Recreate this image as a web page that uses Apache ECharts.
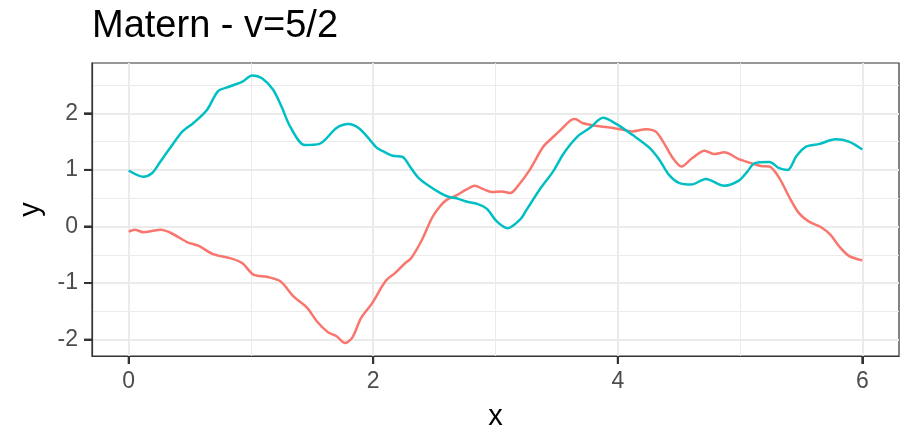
<!DOCTYPE html>
<html>
<head>
<meta charset="utf-8">
<script src="https://cdn.jsdelivr.net/npm/echarts@6/dist/echarts.min.js"></script>
<style>html,body{margin:0;padding:0;background:#fff;}#c{width:904px;height:428px;}</style>
</head>
<body>
<div id="c"></div>
<script>
const redX = [0,0.05,0.12,0.19,0.26,0.35,0.48,0.57,0.69,0.83,0.93,1.02,1.13,1.24,1.35,1.46,1.54,1.63,1.70,1.77,1.83,1.90,1.99,2.10,2.18,2.26,2.31,2.40,2.48,2.54,2.60,2.68,2.76,2.83,2.90,2.97,3.05,3.12,3.17,3.28,3.39,3.46,3.52,3.61,3.65,3.71,3.82,3.96,4.04,4.12,4.23,4.31,4.37,4.45,4.52,4.61,4.71,4.79,4.87,4.99,5.09,5.17,5.24,5.32,5.40,5.48,5.56,5.66,5.74,5.81,5.89,6.00];
const redY = [-0.09,-0.06,-0.10,-0.08,-0.06,-0.12,-0.28,-0.34,-0.49,-0.56,-0.65,-0.85,-0.89,-0.97,-1.24,-1.44,-1.68,-1.87,-1.94,-2.06,-1.96,-1.62,-1.36,-0.97,-0.82,-0.65,-0.56,-0.23,0.15,0.34,0.47,0.55,0.65,0.72,0.66,0.61,0.62,0.59,0.68,1.00,1.41,1.56,1.68,1.87,1.90,1.83,1.78,1.74,1.71,1.68,1.72,1.68,1.50,1.21,1.06,1.21,1.34,1.28,1.31,1.19,1.12,1.07,1.06,0.86,0.53,0.24,0.09,-0.01,-0.15,-0.35,-0.52,-0.60];
const cyanX = [0,0.12,0.19,0.26,0.34,0.44,0.53,0.64,0.73,0.82,0.93,1.01,1.09,1.18,1.25,1.32,1.44,1.56,1.70,1.80,1.88,1.95,2.03,2.08,2.16,2.24,2.30,2.37,2.46,2.55,2.62,2.68,2.76,2.85,2.93,3.01,3.10,3.20,3.25,3.36,3.47,3.56,3.67,3.77,3.88,3.99,4.12,4.26,4.34,4.42,4.50,4.60,4.72,4.87,4.99,5.06,5.12,5.24,5.32,5.39,5.46,5.54,5.65,5.78,5.89,6.00];
const cyanY = [0.99,0.88,0.94,1.15,1.39,1.68,1.83,2.06,2.39,2.47,2.56,2.67,2.62,2.42,2.12,1.77,1.44,1.46,1.74,1.81,1.74,1.59,1.39,1.33,1.25,1.23,1.06,0.86,0.71,0.59,0.52,0.50,0.44,0.40,0.31,0.09,-0.03,0.12,0.28,0.65,0.97,1.30,1.59,1.74,1.92,1.81,1.62,1.39,1.18,0.91,0.77,0.74,0.84,0.72,0.81,0.97,1.12,1.14,1.03,1.00,1.24,1.41,1.46,1.54,1.50,1.36];
const xTicks = [0, 2, 4, 6];
const yTicks = [-2, -1, 0, 1, 2];
const xMinor = [1, 3, 5];
const yMinor = [-1.5, -0.5, 0.5, 1.5, 2.5];
const xRange = [-0.3, 6.3];
const yRange = [-2.29, 2.89];

const zip = (xs, ys) => xs.map((x, i) => [x, ys[i]]);
const font = '"Liberation Sans", Arial, sans-serif';
const gridColor = '#EBEBEB';
const tickColor = '#333333';

const minorAxis = (range, values) => ({
  type: 'value', min: range[0], max: range[1], show: true,
  axisLine: {show: false}, axisTick: {show: false, customValues: values},
  axisLabel: {show: false, customValues: values},
  splitLine: {show: true, lineStyle: {color: gridColor, width: 1}}
});

const chart = echarts.init(document.getElementById('c'), null, {renderer: 'canvas'});
chart.setOption({
  animation: false,
  backgroundColor: '#ffffff',
  title: {
    text: 'Matern - v=5/2', left: 87, top: 3,
    textStyle: {fontFamily: font, fontSize: 38, fontWeight: 'normal', color: '#000000'}
  },
  grid: {left: 92, right: 5, top: 63, bottom: 72, show: true, borderColor: '#333333', borderWidth: 1.2,
         backgroundColor: 'transparent', outerBoundsMode: 'none', containLabel: false},
  xAxis: [{
    type: 'value', min: xRange[0], max: xRange[1],
    name: 'x', nameLocation: 'middle', nameGap: 46,
    nameTextStyle: {fontFamily: font, fontSize: 29, color: '#000000'},
    axisLine: {show: true, onZero: false, lineStyle: {color: tickColor, width: 1.2}},
    axisTick: {show: true, inside: false, length: 8, lineStyle: {color: tickColor, width: 2}, customValues: xTicks},
    axisLabel: {fontFamily: font, fontSize: 23, color: '#4D4D4D', margin: 14, customValues: xTicks},
    splitLine: {show: true, lineStyle: {color: gridColor, width: 2}}
  }, minorAxis(xRange, xMinor)],
  yAxis: [{
    type: 'value', min: yRange[0], max: yRange[1],
    name: 'y', nameLocation: 'middle', nameGap: 47, nameRotate: 90,
    nameTextStyle: {fontFamily: font, fontSize: 29, color: '#000000'},
    axisLine: {show: true, onZero: false, lineStyle: {color: tickColor, width: 1.2}},
    axisTick: {show: true, inside: false, length: 8, lineStyle: {color: tickColor, width: 2}, customValues: yTicks},
    axisLabel: {fontFamily: font, fontSize: 23, color: '#4D4D4D', margin: 14, customValues: yTicks},
    splitLine: {show: true, lineStyle: {color: gridColor, width: 2}}
  }, minorAxis(yRange, yMinor)],
  series: [
    {
      type: 'line', name: 'red', data: zip(redX, redY), showSymbol: false, smooth: 0.3,
      lineStyle: {color: '#F8766D', width: 2.5}, z: 2
    },
    {
      type: 'line', name: 'cyan', data: zip(cyanX, cyanY), showSymbol: false, smooth: 0.3,
      lineStyle: {color: '#00BFC4', width: 2.5}, z: 3
    },
    {
      type: 'custom', silent: true, clip: false, z: 10,
      data: xTicks.map(v => [v, yRange[0]]),
      renderItem: (params, api) => {
        const p = api.coord([api.value(0), api.value(1)]);
        return {type: 'rect', shape: {x: p[0] - 1, y: p[1], width: 2, height: 8}, style: {fill: tickColor}};
      }
    },
    {
      type: 'custom', silent: true, clip: false, z: 10,
      data: yTicks.map(v => [xRange[0], v]),
      renderItem: (params, api) => {
        const p = api.coord([api.value(0), api.value(1)]);
        return {type: 'rect', shape: {x: p[0] - 8, y: p[1] - 1, width: 8, height: 2}, style: {fill: tickColor}};
      }
    }
  ]
});
</script>
</body>
</html>
